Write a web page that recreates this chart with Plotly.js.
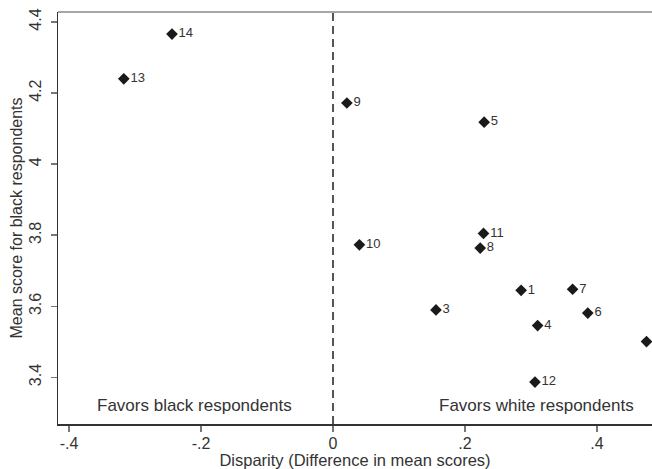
<!DOCTYPE html>
<html><head><meta charset="utf-8">
<script src="https://cdn.plot.ly/plotly-3.0.1.min.js"></script>
<style>html,body{margin:0;padding:0;background:#fff}</style>
</head><body>
<div id="chart" style="width:652px;height:469px"></div>
<script>
const labels = ["1","3","4","5","6","7","8","9","10","11","12","13","14","15"];
const disparity = [0.285,0.156,0.310,0.229,0.386,0.363,0.223,0.021,0.040,0.228,0.306,-0.317,-0.244,0.475];
const blackScore = [3.645,3.590,3.546,4.118,3.581,3.648,3.764,4.172,3.773,3.805,3.387,4.240,4.366,3.501];
const xTicks = [-0.4,-0.2,0,0.2,0.4];
const xTickText = ["-.4","-.2","0",".2",".4"];
const yTicks = [3.4,3.6,3.8,4.0,4.2,4.4];
const yTickText = ["3.4","3.6","3.8","4","4.2","4.4"];

const font = "Liberation Sans, Arial, sans-serif";
const trace = {
  x: disparity, y: blackScore, text: labels.map((t,i)=> i===labels.length-1 ? "" : t),
  type: "scatter", mode: "markers+text", textposition: "middle right",
  marker: {symbol: "diamond", size: 9, color: "#1a1a1a"},
  textfont: {family: font, size: 13, color: "#333"},
  cliponaxis: true, hoverinfo: "none"
};
const layout = {
  width: 652, height: 469,
  margin: {l: 58, r: 0, t: 12, b: 45},
  paper_bgcolor: "#fff", plot_bgcolor: "#fff",
  showlegend: false,
  font: {family: font, color: "#333"},
  xaxis: {
    range: [-0.4167, 0.4833], tickvals: xTicks, ticktext: xTickText,
    showgrid: false, zeroline: false, showline: true, linecolor: "#333", linewidth: 1.5,
    ticks: "outside", ticklen: 6, tickcolor: "#777", tickwidth: 1.5, ticklabelstandoff: -2,
    tickfont: {family: font, size: 16, color: "#333"},
    title: {text: "Disparity (Difference in mean scores)", font: {family: font, size: 16.5, color: "#333"}, standoff: 0}
  },
  yaxis: {
    range: [3.269, 4.428], tickvals: yTicks, ticktext: yTickText,
    showgrid: false, zeroline: false, showline: true, linecolor: "#333", linewidth: 1.5,
    ticks: "outside", ticklen: 6, tickcolor: "#777", tickwidth: 1.5, tickangle: -90, ticklabelstandoff: 3,
    tickfont: {family: font, size: 16, color: "#333"},
    title: {text: "Mean score for black respondents", font: {family: font, size: 16, color: "#333"}, standoff: 0}
  },
  shapes: [
    {type: "line", xref: "x", yref: "paper", x0: 0, x1: 0, y0: 0, y1: 1,
     line: {color: "#555", width: 2, dash: "8px,5px"}},
    {type: "line", xref: "paper", yref: "paper", x0: 0, x1: 1, y0: 1, y1: 1,
     line: {color: "#888", width: 1.5}}
  ],
  annotations: [
    {xref: "x", yref: "paper", x: -0.21, y: 0.045, yanchor: "middle", xanchor: "center",
     text: "Favors black respondents", showarrow: false,
     font: {family: font, size: 17, color: "#333"}, borderpad: 0},
    {xref: "x", yref: "paper", x: 0.309, y: 0.045, yanchor: "middle", xanchor: "center",
     text: "Favors white respondents", showarrow: false,
     font: {family: font, size: 17, color: "#333"}, borderpad: 0}
  ]
};
Plotly.newPlot("chart", [trace], layout, {displayModeBar: false, staticPlot: true});
</script>
</body></html>
